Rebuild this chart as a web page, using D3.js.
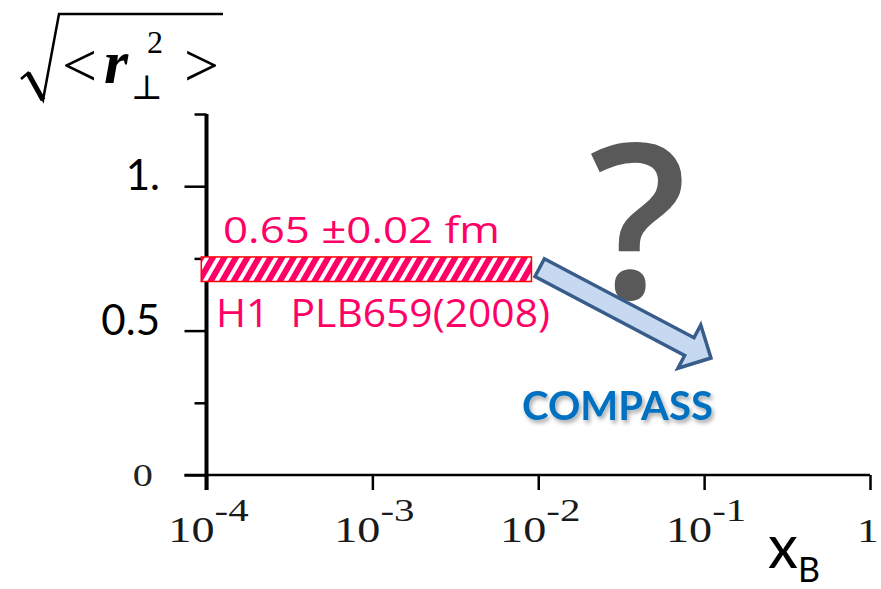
<!DOCTYPE html>
<html>
<head>
<meta charset="utf-8">
<script src="https://cdn.jsdelivr.net/npm/d3@7"></script>
<style>
  body { margin: 0; background: #fff; }
  svg { display: block; }
</style>
</head>
<body>
<svg id="container" width="881" height="589"></svg>
<script>
// ---- data ----
const xTicks = [1e-4, 1e-3, 1e-2, 1e-1, 1];
const xTickExp = ['-4', '-3', '-2', '-1', ''];
const yTicks = [0, 0.25, 0.5, 0.75, 1, 1.25];
const yTickLabels = ['0', '', '0.5', '', '1.', ''];
const bandX = [9.3e-5, 9.1e-3];     // H1 band, x range
const bandY = [0.67, 0.755];        // H1 band, drawn height
const bandText = '0.65 \u00b10.02 fm';
const refText = 'H1  PLB659(2008)';
const arrowFrom = [0.0102, 0.718];  // tail (xB, r)
const arrowTo = [0.11, 0.405];      // tip (xB, r)

const svg = d3.select('#container');
const pink = '#ff0066';
const serif = 'Liberation Serif, Times New Roman, serif';

const x = d3.scaleLog().domain([1e-4, 1]).range([206.5, 870]);
const y = d3.scaleLinear().domain([0, 1.25]).range([475, 114]);

const defs = svg.append('defs');
const pat = defs.append('pattern')
  .attr('id', 'hatch')
  .attr('patternUnits', 'userSpaceOnUse')
  .attr('width', 10).attr('height', 10)
  .attr('patternTransform', 'rotate(30)');
pat.append('rect').attr('width', 10).attr('height', 10).attr('fill', '#fff');
pat.append('rect').attr('width', 6).attr('height', 10).attr('fill', pink);

const shadow = defs.append('filter').attr('id', 'shadow')
  .attr('x', '-10%').attr('y', '-30%').attr('width', '130%').attr('height', '170%');
shadow.append('feDropShadow')
  .attr('dx', 2).attr('dy', 3).attr('stdDeviation', 2)
  .attr('flood-color', '#000').attr('flood-opacity', 0.35);

// ---- y axis ----
const yAxis = svg.append('g')
  .attr('transform', `translate(${x(1e-4)},0)`)
  .call(d3.axisLeft(y).tickValues(yTicks).tickSize(22).tickFormat(''));
yAxis.select('.domain').remove();
yAxis.selectAll('.tick line')
  .attr('stroke', '#000').attr('stroke-width', 2.5)
  .attr('x2', (d) => (d === 0 || d === 0.5 || d === 1 ? -22 : -12));
svg.append('line')
  .attr('x1', x(1e-4)).attr('x2', x(1e-4))
  .attr('y1', y(1.25)).attr('y2', y(0) + 15)
  .attr('stroke', '#000').attr('stroke-width', 4);

// y tick labels
yTicks.forEach((v, i) => {
  const lab = yTickLabels[i];
  if (!lab) return;
  if (v === 0) {
    svg.append('text')
      .attr('transform', `translate(153,${y(v) + 11}) scale(1.3,1)`)
      .attr('text-anchor', 'end')
      .attr('font-family', serif)
      .attr('font-size', 31)
      .attr('fill', '#222')
      .text(lab);
  } else {
    svg.append('text')
      .attr('x', 160).attr('y', y(v) + 4)
      .attr('text-anchor', 'end')
      .attr('font-family', 'Lato, sans-serif')
      .attr('font-size', 42)
      .attr('fill', '#000')
      .text(lab);
  }
});

// ---- x axis ----
const xAxis = svg.append('g')
  .attr('transform', `translate(0,${y(0)})`)
  .call(d3.axisBottom(x).tickValues(xTicks).tickSize(15).tickFormat(''));
xAxis.select('.domain').remove();
xAxis.selectAll('.tick line').attr('stroke', '#000').attr('stroke-width', 2.5);
svg.append('line')
  .attr('x1', x(1e-4) - 22).attr('x2', x(1))
  .attr('y1', y(0)).attr('y2', y(0))
  .attr('stroke', '#000').attr('stroke-width', 2.5);

xTicks.forEach((v, i) => {
  const t = svg.append('text')
    .attr('transform', `translate(${x(v) + (xTickExp[i] ? 2 : -2)},542) scale(1.32,1)`)
    .attr('text-anchor', 'middle')
    .attr('font-family', serif)
    .attr('font-size', 35)
    .attr('fill', '#1a1a1a');
  if (xTickExp[i]) {
    t.append('tspan').text('10');
    t.append('tspan').attr('dy', -21).attr('font-size', 31).text(xTickExp[i]);
  } else {
    t.append('tspan').attr('font-size', 33).text('1');
  }
});

// axis titles
const xt = svg.append('text')
  .attr('x', 768).attr('y', 568)
  .attr('font-family', 'Lato, sans-serif')
  .attr('font-size', 60)
  .attr('fill', '#000');
xt.append('tspan').text('x');
xt.append('tspan').attr('dy', 14).attr('font-size', 34).text('B');

svg.append('path')
  .attr('d', 'M21,79 L28,73 L43,100 L59,14 L223,14')
  .attr('fill', 'none').attr('stroke', '#000')
  .attr('stroke-width', 2.5).attr('stroke-linejoin', 'miter');
svg.append('path')
  .attr('d', 'M28,73 L43,100')
  .attr('stroke', '#000').attr('stroke-width', 5);
svg.append('text').attr('x', 62).attr('y', 86)
  .attr('font-family', serif).attr('font-size', 62).text('<');
svg.append('text').attr('x', 104).attr('y', 83)
  .attr('font-family', serif).attr('font-size', 62)
  .attr('font-weight', 'bold').attr('font-style', 'italic').text('r');
svg.append('text').attr('x', 147).attr('y', 53)
  .attr('font-family', serif).attr('font-size', 32).text('2');
svg.append('text').attr('x', 147).attr('y', 99)
  .attr('text-anchor', 'middle')
  .attr('font-family', 'DejaVu Serif, serif').attr('font-size', 34).text('\u22a5');
svg.append('text').attr('x', 184).attr('y', 86)
  .attr('font-family', serif).attr('font-size', 62).text('>');

// ---- H1 band ----
svg.append('rect')
  .attr('x', x(bandX[0]))
  .attr('y', y(bandY[1]))
  .attr('width', x(bandX[1]) - x(bandX[0]))
  .attr('height', y(bandY[0]) - y(bandY[1]))
  .attr('fill', 'url(#hatch)')
  .attr('stroke', '#ff0000')
  .attr('stroke-width', 1.5);

svg.append('text')
  .attr('x', 223).attr('y', 243)
  .attr('font-family', 'Comic Sans MS, Open Sans, sans-serif')
  .attr('font-size', 37)
  .attr('fill', pink)
  .attr('textLength', 277).attr('lengthAdjust', 'spacingAndGlyphs')
  .text(bandText);
svg.append('text')
  .attr('x', 216).attr('y', 327)
  .attr('font-family', 'Comic Sans MS, Open Sans, sans-serif')
  .attr('font-size', 39)
  .attr('fill', pink)
  .attr('textLength', 334).attr('lengthAdjust', 'spacingAndGlyphs')
  .attr('xml:space', 'preserve')
  .text(refText);

// ---- question mark ----
svg.append('text')
  .attr('x', 638).attr('y', 298)
  .attr('text-anchor', 'middle')
  .attr('font-family', 'Open Sans, sans-serif')
  .attr('font-weight', 600)
  .attr('font-size', 216)
  .attr('fill', '#595959')
  .text('?');

// ---- block arrow ----
const p0 = [x(arrowFrom[0]), y(arrowFrom[1])];
const p1 = [x(arrowTo[0]), y(arrowTo[1])];
const len = Math.hypot(p1[0] - p0[0], p1[1] - p0[1]);
const ang = Math.atan2(p1[1] - p0[1], p1[0] - p0[0]) * 180 / Math.PI;
const sw = 10, hw = 24.5, hl = 24.5;
const shape = [[0, -sw], [len - hl, -sw], [len - hl, -hw], [len, 0],
  [len - hl, hw], [len - hl, sw], [0, sw]];
svg.append('path')
  .attr('transform', `translate(${p0[0]},${p0[1]}) rotate(${ang})`)
  .attr('d', d3.line()(shape) + 'Z')
  .attr('fill', '#c6d9f1')
  .attr('stroke', '#385d8a')
  .attr('stroke-width', 3.5)
  .attr('stroke-linejoin', 'miter');

svg.append('text')
  .attr('x', 522).attr('y', 420)
  .attr('font-family', 'Lato, sans-serif')
  .attr('font-weight', 'bold')
  .attr('font-size', 40)
  .attr('fill', '#0070c0')
  .attr('textLength', 191).attr('lengthAdjust', 'spacingAndGlyphs')
  .attr('filter', 'url(#shadow)')
  .text('COMPASS');
</script>
</body>
</html>
